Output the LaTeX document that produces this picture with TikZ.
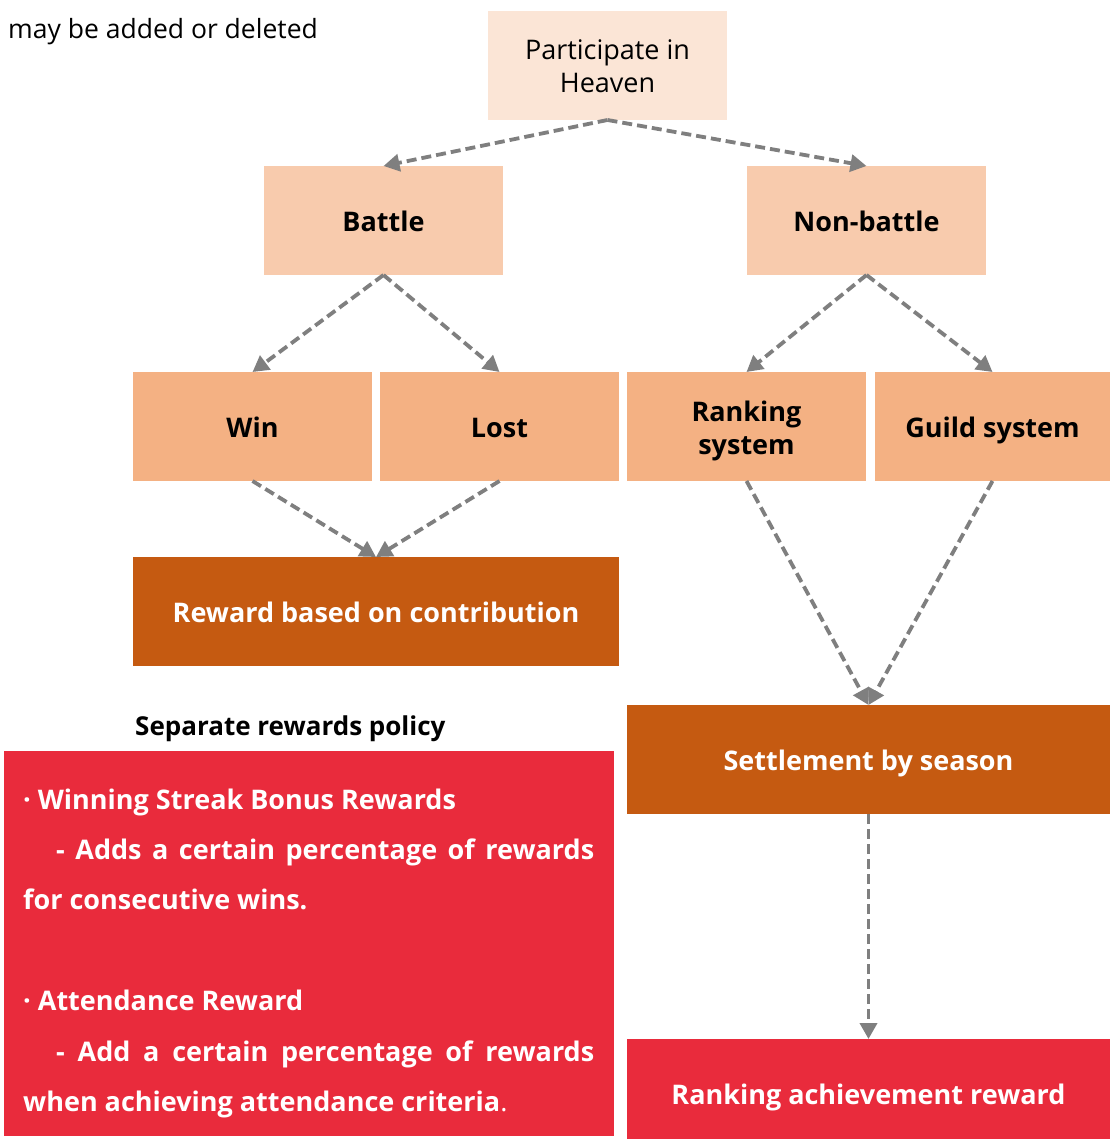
\documentclass[tikz,border=0pt]{standalone}
\usepackage{fontspec}
\setmainfont{Open Sans}
\usetikzlibrary{arrows.meta}
\definecolor{peachA}{HTML}{FBE5D6}
\definecolor{peachB}{HTML}{F8CBAD}
\definecolor{peachC}{HTML}{F4B183}
\definecolor{rust}{HTML}{C55A11}
\definecolor{alert}{HTML}{E92B3C}
\definecolor{flow}{HTML}{7F7F7F}
\begin{document}
\begin{tikzpicture}[x=1pt,y=-1pt,
  box/.style={draw=none,inner sep=0pt,outer sep=0pt,minimum width=239pt,minimum height=109pt,
    align=center,text height=24pt,text depth=2pt,font=\fontsize{27}{33}\selectfont},
  twolines/.style={text height=57pt,text depth=2pt},
  light/.style={box,fill=peachA},
  mid/.style={box,fill=peachB,font=\fontsize{27}{33}\selectfont\bfseries},
  deep/.style={box,fill=peachC,font=\fontsize{27}{33}\selectfont\bfseries},
  dark/.style={box,fill=rust,text=white,font=\fontsize{27}{33}\selectfont\bfseries},
  hot/.style={box,fill=alert,text=white,font=\fontsize{27}{33}\selectfont\bfseries},
  link/.style={draw=flow,line width=3.8pt,dash pattern=on 10pt off 5pt,
    -{Triangle[length=16pt,width=17pt]}},
  note/.style={inner sep=0pt,anchor=base west,text=white,font=\fontsize{27}{33}\selectfont\bfseries}]
\useasboundingbox (0,0) rectangle (1111,1139);

% top note
\node[inner sep=0pt,anchor=base west,font=\fontsize{26.5}{32}\selectfont] (hint) at (8,39) {may be added or deleted};

% boxes
\node[light,twolines] (part) at (607.5,65.5) {Participate in\\Heaven};
\node[mid] (battle) at (383.5,220.5) {Battle};
\node[mid] (nonbattle) at (866.5,220.5) {Non-battle};
\node[deep] (win) at (252.5,426.5) {Win};
\node[deep] (lost) at (499.5,426.5) {Lost};
\node[deep,twolines] (rank) at (746.5,426.5) {Ranking\\system};
\node[deep,minimum width=235pt] (guild) at (992.5,426.5) {Guild system};
\node[dark,minimum width=486pt] (reward) at (376,611.5) {Reward based on contribution};
\node[dark,minimum width=483pt] (settle) at (868.5,759.5) {Settlement by season};
\node[hot,minimum width=483pt] (achieve) at (868.5,1093.5) {Ranking achievement reward};

% separate policy panel
\node[inner sep=0pt,anchor=base west,font=\fontsize{26}{32}\selectfont\bfseries] (policytitle) at (135,735) {Separate rewards policy};
\node[fill=alert,inner sep=0pt,outer sep=0pt,minimum width=610pt,minimum height=385pt,anchor=north west] (policy) at (4,751) {};
\node[note] (l1) at (23,809) {· Winning Streak Bonus Rewards};
\node[note] (l2) at (23,859) {\makebox[571pt][s]{\hspace*{33pt}- Adds a certain percentage of rewards}};
\node[note] (l3) at (23,909) {for consecutive wins.};
\node[note] (l4) at (23,1010) {· Attendance Reward};
\node[note] (l5) at (23,1061) {\makebox[571pt][s]{\hspace*{33pt}- Add a certain percentage of rewards}};
\node[note] (l6) at (23,1111) {when achieving attendance criteria\textmd{.}};

% connectors
\draw[link] (part.south) -- (battle.north);
\draw[link] (part.south) -- (nonbattle.north);
\draw[link] (battle.south) -- (win.north);
\draw[link] (battle.south) -- (lost.north);
\draw[link] (nonbattle.south) -- (rank.north);
\draw[link] (nonbattle.south) -- (guild.north);
\draw[link] (win.south) -- (reward.north);
\draw[link] (lost.south) -- (reward.north);
\draw[link] (rank.south) -- (settle.north);
\draw[link] (guild.south) -- (settle.north);
\draw[link] (settle.south) -- (achieve.north);
\end{tikzpicture}
\end{document}
